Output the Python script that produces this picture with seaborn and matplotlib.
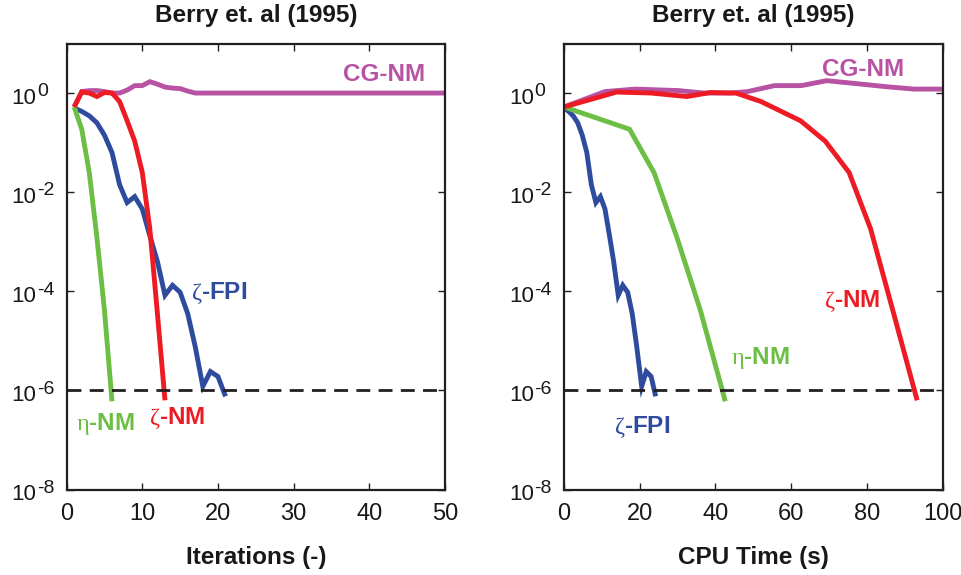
import numpy as np
import pandas as pd
import matplotlib
matplotlib.use("Agg")
import matplotlib.pyplot as plt
import seaborn as sns
from matplotlib import font_manager as fm

# ---------------- data (log10 of residual) ----------------
# Left panel: iterations
cg_iter = [1, 2, 3, 4, 5, 6, 7, 8, 9, 10, 11, 12, 13, 14, 15, 16, 17, 50]
cg_iter_log = [-0.28, 0.03, 0.05, 0.05, 0.03, 0.0, 0.0, 0.06, 0.15, 0.15, 0.23,
               0.18, 0.12, 0.10, 0.09, 0.04, 0.0, 0.0]

zeta_nm_iter = [1, 2, 3, 4, 5, 6, 7, 8, 9, 10, 11, 12, 13]
zeta_nm_log = [-0.28, 0.02, 0.0, -0.07, 0.01, 0.0, -0.17, -0.56, -0.97, -1.6,
               -2.74, -4.45, -6.2]

eta_nm_iter = [1, 2, 3, 4, 5, 6]
eta_nm_log = [-0.28, -0.73, -1.61, -2.91, -4.38, -6.22]

zeta_fpi_iter = [1, 2, 3, 4, 5, 6, 7, 8, 9, 10, 11, 12, 13, 14, 15, 16, 17, 18,
                 19, 20, 21]
zeta_fpi_log = [-0.30, -0.37, -0.46, -0.60, -0.85, -1.2, -1.85, -2.21, -2.09,
                -2.34, -2.88, -3.4, -4.08, -3.88, -4.02, -4.45, -5.12, -5.92,
                -5.62, -5.72, -6.12]

# Right panel: CPU time (s)
cg_time = [0, 10.8, 18.8, 30.2, 37, 44.1, 48.5, 55.6, 62.7, 69.4, 76, 84.9, 92.5, 101]
cg_time_log = [-0.28, 0.03, 0.08, 0.05, 0.0, 0.0, 0.03, 0.15, 0.15, 0.25, 0.2,
               0.13, 0.08, 0.08]

zeta_nm_time = [0, 13.9, 23, 32.5, 38.6, 45.4, 52, 62.5, 69, 75.3, 81, 87.1, 93.3]
eta_nm_time = [0, 17.3, 23.8, 29.8, 36, 42.6]
zeta_fpi_time = [0, 1.2, 2.4, 3.6, 4.8, 6.0, 7.2, 8.4, 9.6, 10.8, 12.0, 13.1,
                 14.3, 15.5, 16.8, 18.0, 19.2, 20.5, 21.7, 23.0, 24.2]

tol = 1e-6
title = "Berry et. al (1995)"
xlabels = ["Iterations (-)", "CPU Time (s)"]
xticks_left = [0, 10, 20, 30, 40, 50]
xticks_right = [0, 20, 40, 60, 80, 100]
ytick_exponents = [-8, -6, -4, -2, 0]

C_CG = "#B852A3"
C_RED = "#ED1C24"
C_BLUE = "#2E4B9E"
C_GREEN = "#6CBE45"
C_AX = "#231F20"
C_TXT = "#1A1718"

# ---------------- style ----------------
sns.set_style("ticks")
avail = {f.name for f in fm.fontManager.ttflist}
sans = [f for f in ["Liberation Sans", "DejaVu Sans"] if f in avail]
serif = [f for f in ["Liberation Serif", "DejaVu Serif"] if f in avail][0]
plt.rcParams["font.family"] = sans
plt.rcParams["mathtext.fontset"] = "custom"
plt.rcParams["mathtext.rm"] = serif
plt.rcParams["mathtext.it"] = serif
plt.rcParams["axes.unicode_minus"] = False

fig = plt.figure(figsize=(9.61, 5.75), dpi=100)
W, H = 961, 575
ax_l = fig.add_axes([66.6 / W, 1 - 489.5 / H, 378.4 / W, 446 / H])
ax_r = fig.add_axes([564.1 / W, 1 - 489.5 / H, 378.4 / W, 446 / H])

LW = 3.5


def draw(ax, x, logs, color):
    df = pd.DataFrame({"x": x, "y": np.power(10.0, logs)})
    sns.lineplot(data=df, x="x", y="y", ax=ax, color=color, lw=LW, sort=False,
                 estimator=None, solid_joinstyle="miter", solid_capstyle="butt")


# left
draw(ax_l, cg_iter, cg_iter_log, C_CG)
draw(ax_l, zeta_fpi_iter, zeta_fpi_log, C_BLUE)
draw(ax_l, eta_nm_iter, eta_nm_log, C_GREEN)
draw(ax_l, zeta_nm_iter, zeta_nm_log, C_RED)
# right
draw(ax_r, cg_time, cg_time_log, C_CG)
draw(ax_r, zeta_fpi_time, zeta_fpi_log, C_BLUE)
draw(ax_r, eta_nm_time, eta_nm_log, C_GREEN)
draw(ax_r, zeta_nm_time, zeta_nm_log, C_RED)

for ax, xt, xl, xlim in [(ax_l, xticks_left, xlabels[0], (0, 50)),
                         (ax_r, xticks_right, xlabels[1], (0, 100))]:
    ax.axhline(tol, color="#231F20", lw=2.0, dashes=(5.0, 3.0), zorder=5)
    ax.set_yscale("log")
    ax.set_ylim(1e-8, 10)
    ax.set_xlim(*xlim)
    ax.set_xticks(xt)
    ax.set_xticklabels([str(v) for v in xt])
    yt = [10.0 ** e for e in ytick_exponents]
    ax.set_yticks(yt)
    ax.set_yticklabels([""] * len(yt))
    ax.minorticks_off()
    ax.tick_params(axis="both", which="both", direction="in", top=True, right=True,
                   length=5, width=1.0, color=C_AX, labelcolor=C_TXT)
    ax.tick_params(axis="x", pad=10, labelsize=17)
    for s in ax.spines.values():
        s.set_visible(True)
        s.set_linewidth(1.6)
        s.set_color(C_AX)
    ax.set_xlabel(xl, fontsize=17.5, fontweight="bold", labelpad=15, color=C_TXT)
    ax.set_ylabel("")
    ax.set_title(title, fontsize=17.5, fontweight="bold", pad=15.5, color=C_TXT)
    # MATLAB-style y tick labels: "10" with a large exponent
    for e, v in zip(ytick_exponents, yt):
        ax.annotate("10", xy=(0, v), xycoords=("axes fraction", "data"),
                    xytext=(-30.0, -11.0), textcoords="offset pixels",
                    ha="right", va="baseline", fontsize=16, color=C_TXT,
                    annotation_clip=False)
        ax.annotate(str(e), xy=(0, v), xycoords=("axes fraction", "data"),
                    xytext=(-29.6, -3.3), textcoords="offset pixels",
                    ha="left", va="baseline", fontsize=14, color=C_TXT,
                    annotation_clip=False)

ann = dict(fontsize=17.5, fontweight="bold", ha="center", va="center_baseline")
# left labels
ax_l.text(42.0, 10 ** 0.42, "CG-NM", color=C_CG, **ann)
ax_l.text(20.2, 10 ** -3.96, "$\\zeta$-FPI", color=C_BLUE, **ann)
ax_l.text(5.1, 10 ** -6.61, "$\\eta$-NM", color=C_GREEN, **ann)
ax_l.text(14.6, 10 ** -6.49, "$\\zeta$-NM", color=C_RED, **ann)
# right labels
ax_r.text(79.0, 10 ** 0.52, "CG-NM", color=C_CG, **ann)
ax_r.text(76.0, 10 ** -4.12, "$\\zeta$-NM", color=C_RED, **ann)
ax_r.text(51.8, 10 ** -5.27, "$\\eta$-NM", color=C_GREEN, **ann)
ax_r.text(20.7, 10 ** -6.67, "$\\zeta$-FPI", color=C_BLUE, **ann)

fig.savefig("out.png", dpi=100)
